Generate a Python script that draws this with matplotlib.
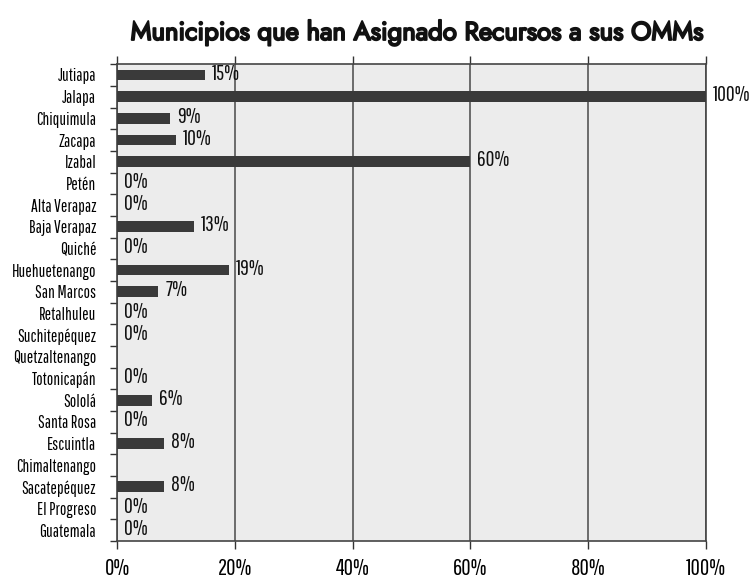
import matplotlib
matplotlib.use("Agg")
import matplotlib.pyplot as plt
import matplotlib.patheffects as pe
import numpy as np

categories = ["Jutiapa", "Jalapa", "Chiquimula", "Zacapa", "Izabal", "Petén",
              "Alta Verapaz", "Baja Verapaz", "Quiché", "Huehuetenango", "San Marcos",
              "Retalhuleu", "Suchitepéquez", "Quetzaltenango", "Totonicapán", "Sololá",
              "Santa Rosa", "Escuintla", "Chimaltenango", "Sacatepéquez", "El Progreso",
              "Guatemala"]
values = [15, 100, 9, 10, 60, 0, 0, 13, 0, 19, 7, 0, 0, None, 0, 6, 0, 8, None, 8, 0, 0]
x_ticks = [0, 20, 40, 60, 80, 100]
x_tick_labels = ["0%", "20%", "40%", "60%", "80%", "100%"]
title = "Municipios que han Asignado Recursos a sus OMMs"

narrow = ["Pathway Gothic One", "DejaVu Sans"]
head = ["Jost", "DejaVu Sans"]

fig = plt.figure(figsize=(7.56, 5.78), dpi=100)
ax = fig.add_axes([0.1548, 0.064, 0.934 - 0.1548, 0.889 - 0.064])
ax.set_facecolor("#ececec")

n = len(categories)
y = np.arange(n)
vals = np.array([v if v is not None else 0 for v in values], dtype=float)
ax.barh(y, vals, height=0.5, color="#3a3a3a", zorder=3)
for yi, v in zip(y, values):
    if v is None:
        continue
    ax.annotate(f"{v}%", (v, yi), xytext=(5, 1), textcoords="offset points",
                ha="left", va="center", fontsize=15.5, family=narrow, color="#111111",
                annotation_clip=False, zorder=4)

ax.set_xlim(0, 100)
ax.set_ylim(n - 0.5, -0.5)
ax.set_xticks(x_ticks)
ax.set_xticklabels(x_tick_labels, fontsize=16.5, family=narrow)
ax.set_yticks(y)
ax.set_yticklabels(categories, fontsize=12.3, family=narrow)
ax.set_yticks(np.arange(n + 1) - 0.5, minor=True)
ax.tick_params(axis="y", which="major", length=0, pad=15)
ax.tick_params(axis="y", which="minor", length=5, width=1, color="#333333", direction="out")
ax.tick_params(axis="x", which="major", length=6, width=1, color="#333333",
               direction="out", top=True, pad=6)
ax.xaxis.grid(True, color="#555555", linewidth=1.2, zorder=1)
for s in ax.spines.values():
    s.set_color("#444444")
    s.set_linewidth(1.2)

fig.text(0.551, 0.943, title, ha="center", va="center", fontsize=18.5, family=head,
         color="#111111",
         path_effects=[pe.withStroke(linewidth=1.4, foreground="#111111")])
fig.savefig("out.png", dpi=100)
